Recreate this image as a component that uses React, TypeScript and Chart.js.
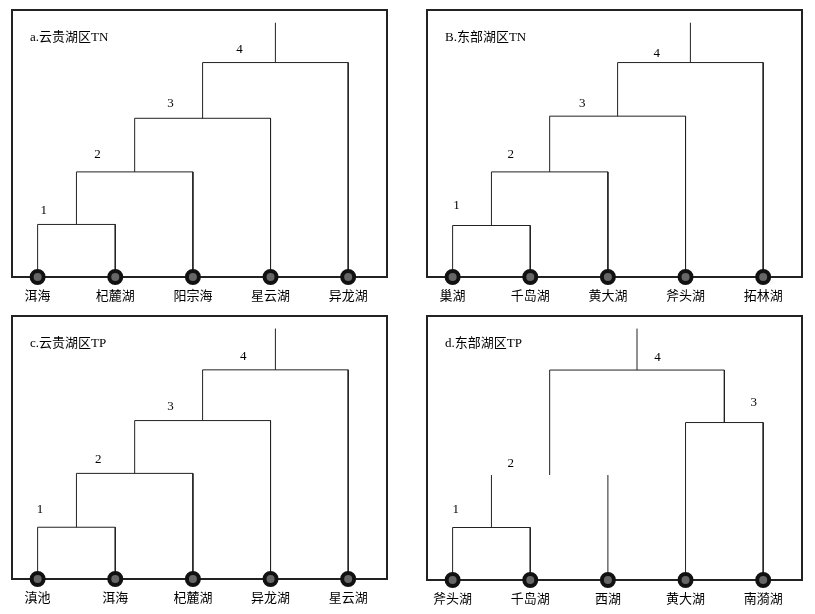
import React, { useEffect, useRef } from "react";
import { Chart, registerables } from "chart.js";

Chart.register(...registerables);

// ---------- data ----------
const titleA = "a.云贵湖区TN";
const leavesA = ["洱海", "杞麓湖", "阳宗海", "星云湖", "异龙湖"];
// merges: [left node, right node, height]; nodes 0..4 are leaves, 5.. are merges
const mergesA: [number, number, number][] = [[0, 1, 0.99], [5, 2, 1.98], [6, 3, 2.99], [7, 4, 4.04]];
const rootTopA = 4.79;
const labelXA = [0.08, 0.77, 1.71, 2.6];
const labelYA = [1.25, 2.3, 3.27, 4.28];

const titleB = "B.东部湖区TN";
const leavesB = ["巢湖", "千岛湖", "黄大湖", "斧头湖", "拓林湖"];
const mergesB: [number, number, number][] = [[0, 1, 0.97], [5, 2, 1.98], [6, 3, 3.03], [7, 4, 4.04]];
const rootTopB = 4.79;
const labelXB = [0.05, 0.75, 1.67, 2.63];
const labelYB = [1.35, 2.3, 3.27, 4.21];

const titleC = "c.云贵湖区TP";
const leavesC = ["滇池", "洱海", "杞麓湖", "异龙湖", "星云湖"];
const mergesC: [number, number, number][] = [[0, 1, 0.99], [5, 2, 2.02], [6, 3, 3.03], [7, 4, 4.0]];
const rootTopC = 4.79;
const labelXC = [0.03, 0.78, 1.71, 2.65];
const labelYC = [1.33, 2.28, 3.29, 4.26];

const titleD = "d.东部湖区TP";
const leavesD = ["斧头湖", "千岛湖", "西湖", "黄大湖", "南漪湖"];
const mergesD: [number, number, number][] = [[0, 1, 1.0], [5, 2, 2.0], [3, 4, 3.0], [6, 7, 4.0]];
const rootTopD = 4.79;
const labelXD = [0.04, 0.75, 3.88, 2.64];
const labelYD = [1.35, 2.22, 3.38, 4.24];
const hiddenBarsD = [false, true, false, false];

const mergeNames = ["1", "2", "3", "4"];

// ---------- helpers ----------
const SERIF = '"Liberation Serif", "Times New Roman", "Noto Sans CJK SC", serif';

type PanelDef = {
  title: string;
  leaves: string[];
  merges: [number, number, number][];
  rootTop: number;
  labelX: number[];
  labelY: number[];
  hidden?: boolean[];
  pad: { left: number; right: number; top: number; bottom: number };
  box: { left: number; top: number; width: number; height: number };
};

function buildSegments(leaves: string[], merges: [number, number, number][], rootTop: number, hidden?: boolean[]) {
  const xs: number[] = leaves.map((_, i) => i);
  const hs: number[] = leaves.map(() => 0);
  const pts: { x: number; y: number | null }[] = [];
  merges.forEach(([l, r, h], k) => {
    const xl = xs[l], xr = xs[r];
    if (hidden && hidden[k]) {
      pts.push({ x: xl, y: hs[l] }, { x: xl, y: h }, { x: xl, y: null });
      pts.push({ x: xr, y: hs[r] }, { x: xr, y: h }, { x: xr, y: null });
    } else {
      pts.push({ x: xl, y: hs[l] }, { x: xl, y: h }, { x: xr, y: h }, { x: xr, y: hs[r] }, { x: xr, y: null });
    }
    xs.push((xl + xr) / 2);
    hs.push(h);
  });
  const root = xs.length - 1;
  pts.push({ x: xs[root], y: hs[root] }, { x: xs[root], y: rootTop });
  return pts;
}

function Panel({ def }: { def: PanelDef }) {
  const ref = useRef<HTMLCanvasElement>(null);
  useEffect(() => {
    if (!ref.current) return;
    const segs = buildSegments(def.leaves, def.merges, def.rootTop, def.hidden);
    const leafPts = def.leaves.map((_, i) => ({ x: i, y: 0 }));
    const deco = {
      id: "deco",
      beforeDatasetsDraw(chart: any) {
        const { ctx, chartArea } = chart;
        ctx.save();
        ctx.strokeStyle = "#222";
        ctx.lineWidth = 2;
        ctx.strokeRect(chartArea.left, chartArea.top, chartArea.right - chartArea.left, chartArea.bottom - chartArea.top);
        ctx.restore();
      },
      afterDatasetsDraw(chart: any) {
        const { ctx, chartArea, scales } = chart;
        const xs = scales.x, ys = scales.y;
        ctx.save();
        ctx.fillStyle = "#000";
        ctx.font = `13px ${SERIF}`;
        ctx.textBaseline = "middle";
        ctx.textAlign = "left";
        ctx.fillText(def.title, chartArea.left + 18, chartArea.top + 28);
        ctx.textAlign = "center";
        def.leaves.forEach((name, i) => {
          ctx.fillText(name, xs.getPixelForValue(i), chartArea.bottom + 20);
        });
        ctx.font = `13px ${SERIF}`;
        mergeNames.forEach((m, k) => {
          ctx.fillText(m, xs.getPixelForValue(def.labelX[k]), ys.getPixelForValue(def.labelY[k]));
        });
        ctx.restore();
      },
    };
    const chart = new Chart(ref.current, {
      type: "line",
      data: {
        datasets: [
          {
            type: "scatter",
            data: leafPts,
            pointRadius: 6,
            pointBorderWidth: 4,
            pointBackgroundColor: "#666",
            pointBorderColor: "#111",
            clip: false,
            order: 0,
          } as any,
          {
            type: "line",
            data: segs,
            borderColor: "#222",
            borderWidth: 1,
            pointRadius: 0,
            tension: 0,
            spanGaps: false,
            clip: false,
            order: 1,
          } as any,
        ],
      },
      options: {
        animation: false,
        responsive: false,
        events: [],
        layout: { padding: def.pad },
        plugins: { legend: { display: false }, tooltip: { enabled: false } },
        scales: {
          x: { type: "linear", min: -0.33, max: 4.5, display: false },
          y: { type: "linear", min: 0, max: 5.03, display: false },
        },
      },
      plugins: [deco],
    });
    return () => chart.destroy();
  }, [def]);
  return (
    <canvas
      ref={ref}
      width={def.box.width}
      height={def.box.height}
      style={{ position: "absolute", left: def.box.left, top: def.box.top, width: def.box.width, height: def.box.height }}
    />
  );
}

const panels: PanelDef[] = [
  {
    title: titleA, leaves: leavesA, merges: mergesA, rootTop: rootTopA, labelX: labelXA, labelY: labelYA,
    pad: { left: 12, right: 20, top: 8, bottom: 29 },
    box: { left: 0, top: 0, width: 407, height: 306 },
  },
  {
    title: titleB, leaves: leavesB, merges: mergesB, rootTop: rootTopB, labelX: labelXB, labelY: labelYB,
    pad: { left: 20, right: 13, top: 8, bottom: 29 },
    box: { left: 407, top: 0, width: 408, height: 306 },
  },
  {
    title: titleC, leaves: leavesC, merges: mergesC, rootTop: rootTopC, labelX: labelXC, labelY: labelYC,
    pad: { left: 12, right: 20, top: 5, bottom: 35 },
    box: { left: 0, top: 306, width: 407, height: 308 },
  },
  {
    title: titleD, leaves: leavesD, merges: mergesD, rootTop: rootTopD, labelX: labelXD, labelY: labelYD, hidden: hiddenBarsD,
    pad: { left: 20, right: 13, top: 5, bottom: 34 },
    box: { left: 407, top: 306, width: 408, height: 308 },
  },
];

export default function App() {
  return (
    <div style={{ position: "fixed", left: 0, top: 0, width: 815, height: 614, background: "#fff", overflow: "hidden" }}>
      {panels.map((p, i) => (
        <Panel key={i} def={p} />
      ))}
    </div>
  );
}
